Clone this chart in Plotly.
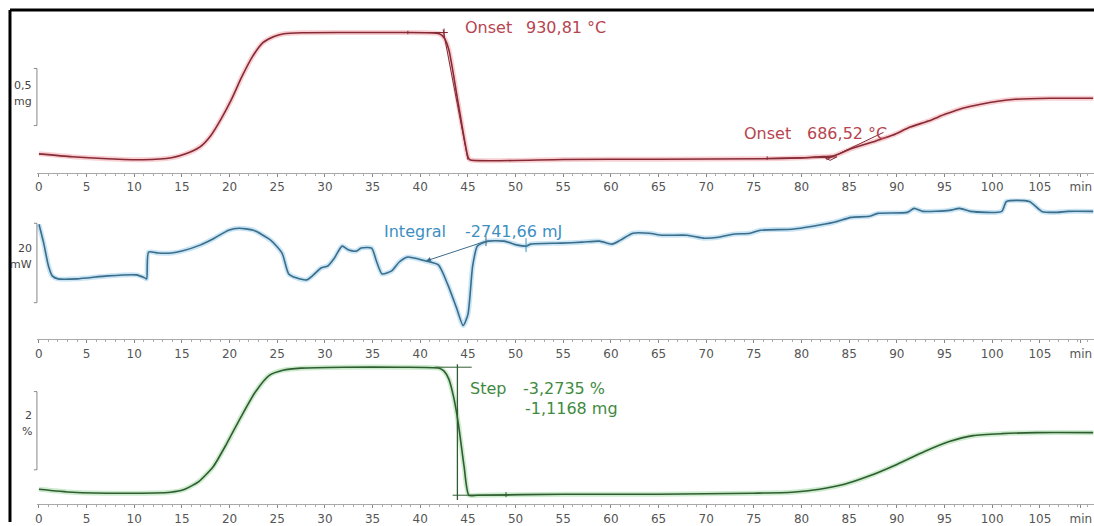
import plotly.graph_objects as go

# ---------------- data ----------------
# time axis in minutes
tg_mg_time = [0, 3.5, 7.2, 10.9, 13.9, 15.4, 16.9, 18.0, 19.1, 20.2, 21.3, 22.4, 23.5, 24.6,
              25.7, 27.6, 32, 38, 42.0, 42.5, 43.0, 44.0, 45.0, 45.2, 55, 65, 76, 80, 81.9,
              83.4, 85.2, 87.8, 89.6, 91.4, 93.3, 95.1, 96.9, 98.8, 100.6, 102.4, 106.1, 110.6]
tg_mg_value = [0.052, 0.026, 0.009, 0.0, 0.017, 0.052, 0.113, 0.209, 0.357, 0.530, 0.730, 0.904,
               1.026, 1.078, 1.104, 1.113, 1.115, 1.115, 1.104, 1.070, 0.965, 0.487, 0.026, 0.0,
               0.003, 0.005, 0.009, 0.017, 0.026, 0.035, 0.096, 0.165, 0.217, 0.287, 0.339,
               0.400, 0.452, 0.487, 0.513, 0.530, 0.539, 0.539]

dsc_time = [0, 0.5, 1.0, 1.4, 2, 4, 7.2, 10.2, 11.1, 11.3, 11.5, 12.5, 13.9, 15, 16.9, 18.4,
            19.9, 21, 22.5, 24.3, 25.5, 26.2, 27, 28.1, 28.8, 29.6, 30.3, 31, 31.8, 32.5,
            33.3, 33.8, 34.9, 35.4, 36.0, 37.0, 37.8, 38.7, 39.8, 40.6, 41.9, 42.9, 43.8,
            44.5, 45.0, 45.5, 46.0, 47.1, 48.8, 50.2, 51.1, 51.6, 54.8, 57, 58.8, 60.1, 61,
            62.3, 64, 65.4, 68, 69.8, 71.3, 72.8, 74.6, 75.7, 79, 81.2, 83.4, 85.2, 87.1, 88,
            91.1, 91.8, 92.7, 95.5, 96.6, 97.7, 101, 101.5, 103.9, 105.2, 106.8, 107.9, 110.6]
dsc_mw = [18.5, 13.75, 8.0, 5.5, 4.75, 4.75, 5.5, 5.75, 5.0, 4.75, 11.5, 11.25, 11.25, 11.75,
          13.25, 15.0, 17.0, 17.5, 17.0, 14.5, 11.25, 6.0, 5.0, 4.5, 5.75, 7.5, 8.0, 10.0,
          13.0, 12.0, 11.75, 12.5, 12.5, 9.25, 6.0, 6.75, 9.0, 10.25, 9.75, 9.25, 8.25, 3.25,
          -2.5, -7.0, -4.25, 8.0, 13.0, 14.25, 14.25, 13.25, 13.0, 13.5, 13.75, 14.0, 14.25,
          13.5, 14.5, 16.25, 16.25, 15.75, 15.75, 15.0, 15.25, 16.0, 16.25, 17.0, 17.25, 18.0,
          19.0, 20.25, 20.5, 21.25, 21.5, 22.5, 21.75, 22.0, 22.5, 21.75, 21.75, 24.25, 24.25,
          21.75, 21.5, 21.75, 21.75]

tg_pct_time = [0, 3.5, 9, 13.8, 15.3, 16.8, 18.3, 19.7, 21.2, 22.7, 24.2, 25.6, 27.5, 32, 38,
               42.0, 42.5, 43.0, 43.5, 44.0, 44.6, 45.1, 46, 55, 65, 75, 79, 81.9, 84.5, 87,
               90, 92.9, 95.5, 98, 101, 104.6, 110.6]
tg_pct_value = [0.152, 0.076, 0.051, 0.076, 0.152, 0.355, 0.736, 1.320, 2.005, 2.640, 3.071,
                3.198, 3.249, 3.274, 3.274, 3.249, 3.173, 2.970, 2.513, 1.827, 0.736, 0.0,
                0.0, 0.025, 0.025, 0.051, 0.076, 0.152, 0.279, 0.482, 0.787, 1.117, 1.371,
                1.523, 1.574, 1.600, 1.600]

tick_values = [0, 5, 10, 15, 20, 25, 30, 35, 40, 45, 50, 55, 60, 65, 70, 75, 80, 85, 90, 95,
               100, 105, 109.3]
tick_labels = ["0", "5", "10", "15", "20", "25", "30", "35", "40", "45", "50", "55", "60",
               "65", "70", "75", "80", "85", "90", "95", "100", "105", "min"]

# ---------------- geometry / style ----------------
W, H = 1094, 526
X0_PX, PX_PER_MIN = 37, 9.55
x_range = [(35 - X0_PX) / PX_PER_MIN, (W - X0_PX) / PX_PER_MIN]
x_dom = [35 / W, 1.0]


def ydom(top_px, bottom_px):
    return [1 - bottom_px / H, 1 - top_px / H]


FONT = "DejaVu Sans"
RED_LINE, RED_HALO, RED_TEXT = "#862a35", "rgba(235,120,130,0.35)", "#b7444f"
BLUE_LINE, BLUE_HALO, BLUE_TEXT = "#3b6d8a", "rgba(120,190,230,0.40)", "#3d8fc2"
GREEN_LINE, GREEN_HALO, GREEN_TEXT = "#2f5d31", "rgba(130,205,130,0.40)", "#3f8a3f"

fig = go.Figure()


def add_curve(x, y, xa, ya, line_c, halo_c):
    fig.add_trace(go.Scatter(x=x, y=y, xaxis=xa, yaxis=ya, mode="lines",
                             line=dict(color=halo_c, width=5, shape="spline", smoothing=0.6),
                             hoverinfo="skip", showlegend=False))
    fig.add_trace(go.Scatter(x=x, y=y, xaxis=xa, yaxis=ya, mode="lines",
                             line=dict(color=line_c, width=1.6, shape="spline", smoothing=0.6),
                             showlegend=False))


add_curve(tg_mg_time, tg_mg_value, "x", "y", RED_LINE, RED_HALO)
add_curve(dsc_time, dsc_mw, "x2", "y2", BLUE_LINE, BLUE_HALO)
add_curve(tg_pct_time, tg_pct_value, "x3", "y3", GREEN_LINE, GREEN_HALO)

axis_common = dict(range=x_range, domain=x_dom, showgrid=False, zeroline=False,
                   showline=True, linecolor="#a8a8a8", linewidth=1,
                   tickmode="array", tickvals=tick_values, ticktext=tick_labels,
                   ticks="outside", ticklen=3, tickcolor="#888",
                   minor=dict(tickmode="linear", tick0=0, dtick=1, ticks="outside",
                              ticklen=2, tickcolor="#aaa", showgrid=False),
                   tickfont=dict(family=FONT, size=12, color="#555"))
yaxis_common = dict(visible=False, showgrid=False, zeroline=False, fixedrange=True)

layout = dict(
    width=W, height=H, margin=dict(l=0, r=0, t=0, b=0),
    paper_bgcolor="white", plot_bgcolor="white", showlegend=False,
    font=dict(family=FONT),
    xaxis=dict(anchor="y", **axis_common),
    xaxis2=dict(anchor="y2", **axis_common),
    xaxis3=dict(anchor="y3", **axis_common),
    yaxis=dict(anchor="x", domain=ydom(10, 174), range=[(161 - 174) / 115, (161 - 10) / 115],
               **yaxis_common),
    yaxis2=dict(anchor="x2", domain=ydom(200, 342), range=[-10.5, 25], **yaxis_common),
    yaxis3=dict(anchor="x3", domain=ydom(350, 508),
                range=[(499 - 508) / 39.4, (499 - 350) / 39.4], **yaxis_common),
)
fig.update_layout(**layout)

shapes = []
# outer black frame: only left and top edges are visible in the picture
shapes.append(dict(type="line", xref="paper", yref="paper", x0=8 / W, x1=1.0,
                   y0=1 - 10 / H, y1=1 - 10 / H, line=dict(color="black", width=3)))
shapes.append(dict(type="line", xref="paper", yref="paper", x0=8 / W, x1=8 / W,
                   y0=0.0, y1=1 - 10 / H, line=dict(color="black", width=3)))

# scale bars
bar_x = 35 / W
cap = 3 / W
for yref, lo, hi in [("y", 0.30, 0.80), ("y2", -1.25, 18.75), ("y3", 0.65, 2.65)]:
    shapes.append(dict(type="line", xref="paper", yref=yref, x0=bar_x, x1=bar_x, y0=lo, y1=hi,
                       line=dict(color="#888", width=1)))
    for yy in (lo, hi):
        shapes.append(dict(type="line", xref="paper", yref=yref, x0=bar_x - cap, x1=bar_x,
                           y0=yy, y1=yy, line=dict(color="#888", width=1)))

# onset 1 construction
shapes.append(dict(type="line", xref="x", yref="y", x0=38.7, x1=42.8, y0=1.115, y1=1.115,
                   line=dict(color=RED_LINE, width=1)))
shapes.append(dict(type="line", xref="x", yref="y", x0=38.7, x1=38.7, y0=1.10, y1=1.13,
                   line=dict(color=RED_LINE, width=1)))
shapes.append(dict(type="line", xref="x", yref="y", x0=42.5, x1=42.5, y0=1.08, y1=1.15,
                   line=dict(color=RED_LINE, width=1)))
shapes.append(dict(type="line", xref="x", yref="y", x0=42.1, x1=42.9, y0=1.115, y1=1.115,
                   line=dict(color=RED_LINE, width=1)))
shapes.append(dict(type="line", xref="x", yref="y", x0=42.4, x1=45.0, y0=1.14, y1=0.0,
                   line=dict(color=RED_LINE, width=1)))
# onset 2 construction
shapes.append(dict(type="line", xref="x", yref="y", x0=76.4, x1=76.4, y0=0.0, y1=0.03,
                   line=dict(color=RED_LINE, width=1)))
shapes.append(dict(type="line", xref="x", yref="y", x0=76.4, x1=83.0, y0=0.012, y1=0.02,
                   line=dict(color=RED_LINE, width=1)))
shapes.append(dict(type="line", xref="x", yref="y", x0=82.6, x1=88.6, y0=0.0, y1=0.24,
                   line=dict(color=RED_LINE, width=1)))
shapes.append(dict(type="path", xref="x", yref="y",
                   path="M 82.3 0.025 L 83.0 -0.005 L 83.7 0.025 Z",
                   line=dict(color=RED_LINE, width=1)))

# integral baseline tick
shapes.append(dict(type="line", xref="x2", yref="y2", x0=46.9, x1=46.9, y0=13.0, y1=15.5,
                   line=dict(color=BLUE_LINE, width=1)))
shapes.append(dict(type="line", xref="x2", yref="y2", x0=51.1, x1=51.1, y0=11.5, y1=15.0,
                   line=dict(color=BLUE_TEXT, width=1)))

# step construction
shapes.append(dict(type="line", xref="x3", yref="y3", x0=43.9, x1=43.9, y0=3.35, y1=-0.12,
                   line=dict(color=GREEN_LINE, width=1.3)))
shapes.append(dict(type="line", xref="x3", yref="y3", x0=41.5, x1=45.4, y0=3.274, y1=3.274,
                   line=dict(color=GREEN_LINE, width=1)))
shapes.append(dict(type="line", xref="x3", yref="y3", x0=43.4, x1=49.3, y0=0.0, y1=0.0,
                   line=dict(color=GREEN_LINE, width=1)))
shapes.append(dict(type="line", xref="x3", yref="y3", x0=49.0, x1=49.0, y0=-0.05, y1=0.08,
                   line=dict(color=GREEN_LINE, width=1)))
fig.update_layout(shapes=shapes)

ann = []


def txt(x, y, xref, yref, text, color, size=16, xanchor="left"):
    ann.append(dict(x=x, y=y, xref=xref, yref=yref, text=text, showarrow=False,
                    xanchor=xanchor, yanchor="middle",
                    font=dict(family=FONT, size=size, color=color)))


# scale bar labels
txt(32 / W, 0.655, "paper", "y", "0,5", "#444", 11, "right")
txt(32 / W, 0.51, "paper", "y", "mg", "#444", 11, "right")
txt(32 / W, 12.5, "paper", "y2", "20", "#444", 11, "right")
txt(32 / W, 8.25, "paper", "y2", "mW", "#444", 11, "right")
txt(32 / W, 2.05, "paper", "y3", "2", "#444", 11, "right")
txt(32 / W, 1.62, "paper", "y3", "%", "#444", 11, "right")

# curve annotations
txt(44.5, 1.157, "x", "y", "Onset", RED_TEXT)
txt(50.9, 1.157, "x", "y", "930,81 °C", RED_TEXT)
txt(73.8, 0.226, "x", "y", "Onset", RED_TEXT)
txt(80.4, 0.226, "x", "y", "686,52 °C", RED_TEXT)
txt(36.0, 16.75, "x2", "y2", "Integral", BLUE_TEXT)
txt(44.5, 16.75, "x2", "y2", "-2741,66 mJ", BLUE_TEXT)
txt(45.0, 2.72, "x3", "y3", "Step", GREEN_TEXT)
txt(50.6, 2.72, "x3", "y3", "-3,2735 %", GREEN_TEXT)
txt(50.8, 2.21, "x3", "y3", "-1,1168 mg", GREEN_TEXT)

# integral arrow
ann.append(dict(x=40.6, y=9.25, xref="x2", yref="y2", ax=46.9, ay=14.25, axref="x2",
                ayref="y2", showarrow=True, arrowhead=2, arrowsize=1, arrowwidth=1,
                arrowcolor=BLUE_LINE, text=""))
fig.update_layout(annotations=ann)

fig.write_html("out.html",
               config={"displayModeBar": False},
               post_script="document.body.style.margin='0';"
                           "document.body.style.overflow='hidden';")
